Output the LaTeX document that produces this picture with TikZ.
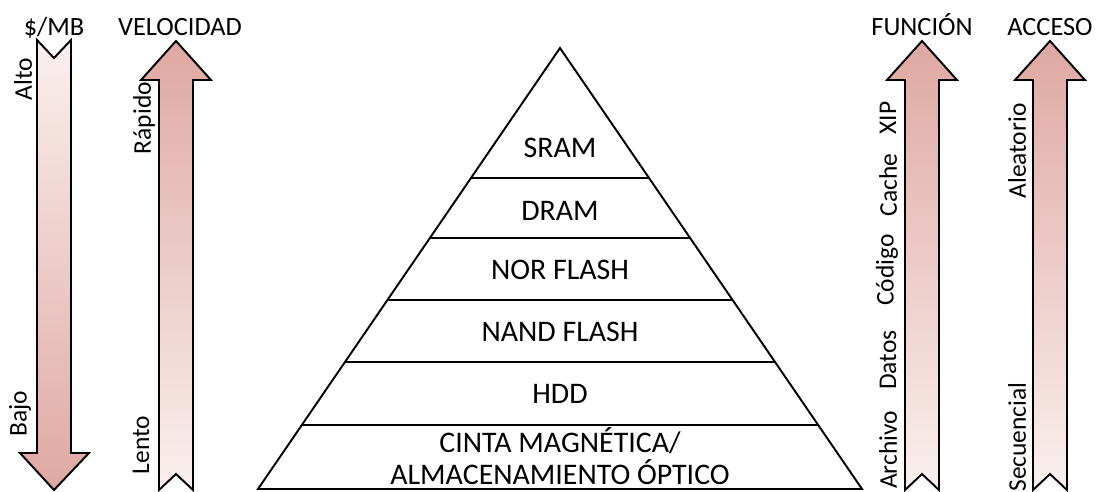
\documentclass[tikz,border=0pt]{standalone}
\usepackage{fontspec}
\setmainfont{Carlito}
\usetikzlibrary{calc}
\definecolor{pinkdark}{RGB}{223,168,162}
\definecolor{pinklight}{RGB}{250,240,238}
\tikzset{
  arrowshape/.style={draw=black, line width=1.1pt, line join=miter},
  upfill/.style={top color=pinkdark, bottom color=pinklight},
  downfill/.style={top color=pinklight, bottom color=pinkdark},
  title/.style={font=\fontsize{15}{17}\selectfont, inner sep=0pt, anchor=base},
  side/.style={font=\fontsize{14.5}{16}\selectfont, rotate=90, inner sep=0pt},
  layer/.style={font=\fontsize{17}{20}\selectfont, inner sep=0pt, align=center},
  pyr/.style={draw=black, line width=1.1pt},
}
\begin{document}
\begin{tikzpicture}[x=0.02cm, y=-0.02cm]
\useasboundingbox (0,0) rectangle (1098,491);
% ---- $/MB arrow (down)
\draw[arrowshape, downfill] (37,40) -- (54,58) -- (71,40) -- (71,453) -- (89,453) -- (54,490) -- (20,453) -- (37,453) -- cycle;
% ---- up arrows
\newcommand{\uparrowat}[1]{%
  \draw[arrowshape, upfill] (#1,41) -- ({#1+35},80) -- ({#1+17},80) -- ({#1+17},490) -- (#1,474) -- ({#1-17},490) -- ({#1-17},80) -- ({#1-35},80) -- cycle;}
\uparrowat{176}
\uparrowat{922}
\uparrowat{1050}
% titles
\node[title] (tmb) at (54,35) {\$/MB};
\node[title] (tvel) at (180,35) {VELOCIDAD};
\node[title] (tfun) at (922,35) {FUNCIÓN};
\node[title] (tacc) at (1050,35) {ACCESO};
% side labels
\node[side] (alto) at (23,79) {Alto};
\node[side] (bajo) at (20,414) {Bajo};
\node[side] (rapido) at (144,118) {Rápido};
\node[side] (lento) at (141,445) {Lento};
\node[side] (xip) at (888,118) {XIP};
\node[side] (cache) at (888,185) {Cache};
\node[side] (codigo) at (887,270) {Código};
\node[side] (datos) at (888,360) {Datos};
\node[side] (archivo) at (888,450) {Archivo};
\node[side] (alea) at (1017,151) {Aleatorio};
\node[side] (secu) at (1017,437) {Secuencial};
% pyramid
\coordinate (apex) at (560,48);
\coordinate (bl) at (258,489);
\coordinate (br) at (862,489);
\draw[pyr, line join=miter] (bl) -- (apex) -- (br) -- cycle;
\foreach \t in {0.2948,0.4308,0.5714,0.7120,0.8549}{
  \draw[pyr] ($(apex)!\t!(bl)$) -- ($(apex)!\t!(br)$);
}
\node[layer] (sram) at (560,148) {SRAM};
\node[layer] (dram) at (560,211) {DRAM};
\node[layer] (nor) at (560,270) {NOR FLASH};
\node[layer] (nand) at (560,332) {NAND FLASH};
\node[layer] (hdd) at (560,394) {HDD};
\node[layer] (cinta) at (560,441) {CINTA MAGNÉTICA/};
\node[layer] (optico) at (560,472) {ALMACENAMIENTO ÓPTICO};
\end{tikzpicture}
\end{document}
